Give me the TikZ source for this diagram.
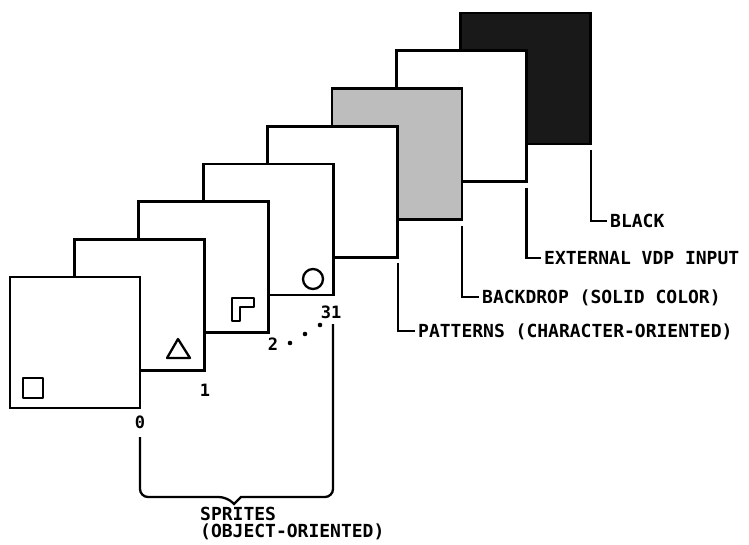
\documentclass[tikz,border=0pt]{standalone}
\usepackage{fontspec}
\usetikzlibrary{calc}
\newfontfamily\lettering{DejaVu Sans Mono}
\definecolor{stipple}{gray}{0.74}

\begin{document}
\begin{tikzpicture}[x=1pt,y=-1pt,
  plane/.style={draw, line width=2.7pt, minimum width=130pt, minimum height=131pt, inner sep=0pt, outer sep=0pt},
  lbl/.style={font={\lettering\bfseries\fontsize{18}{18}\selectfont}, inner sep=3pt, text height=13pt, text depth=0pt, anchor=west},
  num/.style={font={\lettering\bfseries\fontsize{17}{17}\selectfont}, inner sep=1pt},
  leader/.style={line width=2.2pt},
  icon/.style={line width=2.3pt, line join=round}]
\useasboundingbox (0,0) rectangle (749,544);
% the planes, back to front
\foreach \k/\col in {7/black!90,6/white,5/stipple,4/white,3/white,2/white,1/white,0/white}
  \node[plane, fill=\col] (p\k) at ({75+64.4*\k},{342.5-37.7*\k}) {};
% sprite shapes
\draw[icon] (23,378) rectangle (43,398);
\draw[icon] (178,339) -- (190,358) -- (167,358) -- cycle;
\draw[icon] (232,298) -- (254,298) -- (254,307) -- (240,307) -- (240,321) -- (232,321) -- cycle;
\draw[icon] (313,279) circle[radius=10pt];
% sprite numbers
\node[num] (n0) at (140,422) {0};
\node[num] (n1) at (205,390) {1};
\node[num] (n2) at (273,344) {2};
\node[num] (n31) at (331,312) {31};
\foreach \d in {(290,343),(305,334),(320,325)}
  \fill \d circle[radius=2.3pt];
% labels for the back planes
\node[lbl] (lblack) at (607,221) {BLACK};
\node[lbl] (lvdp) at (541,258) {EXTERNAL VDP INPUT};
\node[lbl] (lbackdrop) at (479,297) {BACKDROP (SOLID COLOR)};
\node[lbl] (lpatterns) at (415,331) {PATTERNS (CHARACTER-ORIENTED)};
\foreach \k/\l in {7/lblack,6/lvdp,5/lbackdrop,4/lpatterns}{
  \coordinate (t\k) at ($(p\k.south east)+(0,6)$);
  \draw[leader] (t\k) |- (\l.west);
}
% the sprites brace
\coordinate (bl) at (140,437);
\coordinate (br) at (333,324);
\coordinate (btip) at (234,504);
\draw[line width=2.3pt] (bl) [rounded corners=8pt] |- ($(btip)+(-7,-7)$) [sharp corners] -- (btip)
  -- ($(btip)+(7,-7)$) [rounded corners=8pt] -| (br);
\node[lbl, anchor=north west, align=left, text height=, inner sep=1pt,
  font={\lettering\bfseries\fontsize{18}{17}\selectfont}] (lsprites) at (199,506) {SPRITES\\(OBJECT-ORIENTED)};
\end{tikzpicture}
\end{document}
